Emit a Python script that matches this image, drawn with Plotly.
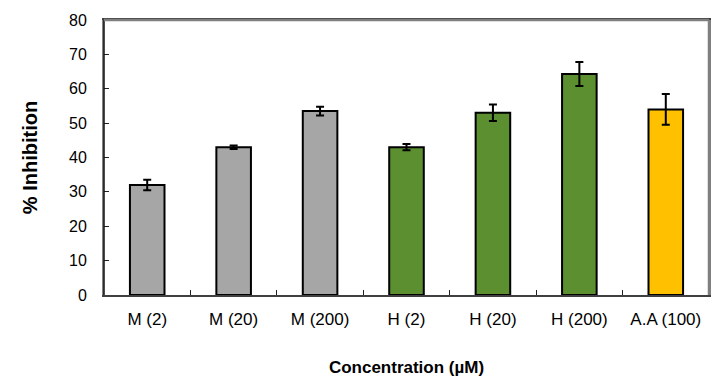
import plotly.graph_objects as go

categories = ["M (2)", "M (20)", "M (200)", "H (2)", "H (20)", "H (200)", "A.A (100)"]
values = [32.0, 43.0, 53.5, 43.0, 53.0, 64.3, 54.0]
errors = [1.5, 0.5, 1.3, 0.9, 2.4, 3.5, 4.5]
colors = ["#A6A6A6", "#A6A6A6", "#A6A6A6", "#5B8F2F", "#5B8F2F", "#5B8F2F", "#FFC000"]
y_ticks = [0, 10, 20, 30, 40, 50, 60, 70, 80]

font = "Liberation Sans, Arial, sans-serif"

fig = go.Figure(go.Bar(
    x=categories, y=values,
    marker=dict(color=colors, line=dict(color="black", width=2)),
    error_y=dict(type="data", array=errors, color="black", thickness=2, width=4),
    width=0.4,
))

# darker left axis line over the grey frame
fig.add_shape(type="line", xref="paper", yref="paper", x0=0, y0=0, x1=0, y1=1,
              line=dict(color="#111111", width=1.5), layer="above")
# grey top and right frame lines
fig.add_shape(type="line", xref="paper", yref="paper", x0=0, y0=1, x1=1, y1=1,
              line=dict(color="#7F7F7F", width=2.5), layer="above")
fig.add_shape(type="line", xref="paper", yref="paper", x0=1, y0=0, x1=1, y1=1,
              line=dict(color="#7F7F7F", width=2.5), layer="above")

# page body has an 8px margin, so the figure is sized/offset to compensate
fig.update_layout(
    width=716, height=382,
    margin=dict(l=96, r=15, t=12, b=95),
    paper_bgcolor="white", plot_bgcolor="white",
    showlegend=False,
    font=dict(family=font, size=16, color="black"),
    xaxis=dict(
        showline=True, mirror=True, linecolor="#404040", linewidth=2,
        ticks="inside", tickson="boundaries", ticklen=5, tickcolor="#202020",
        tickfont=dict(size=17, family=font), ticklabelstandoff=8, automargin=False,
        title=dict(text="<b>Concentration (µM)</b>", font=dict(size=17, family=font), standoff=33),
    ),
    yaxis=dict(
        range=[0, 80], tickvals=y_ticks, showgrid=False, zeroline=False,
        showline=True, mirror=True, linecolor="#808080", linewidth=2,
        ticks="inside", ticklen=5, tickcolor="#202020",
        tickfont=dict(size=16, family=font), ticklabelstandoff=12, automargin=False,
        title=dict(text="<b>% Inhibition</b>", font=dict(size=20, family=font), standoff=26),
    ),
)

fig.write_html("out.html")
